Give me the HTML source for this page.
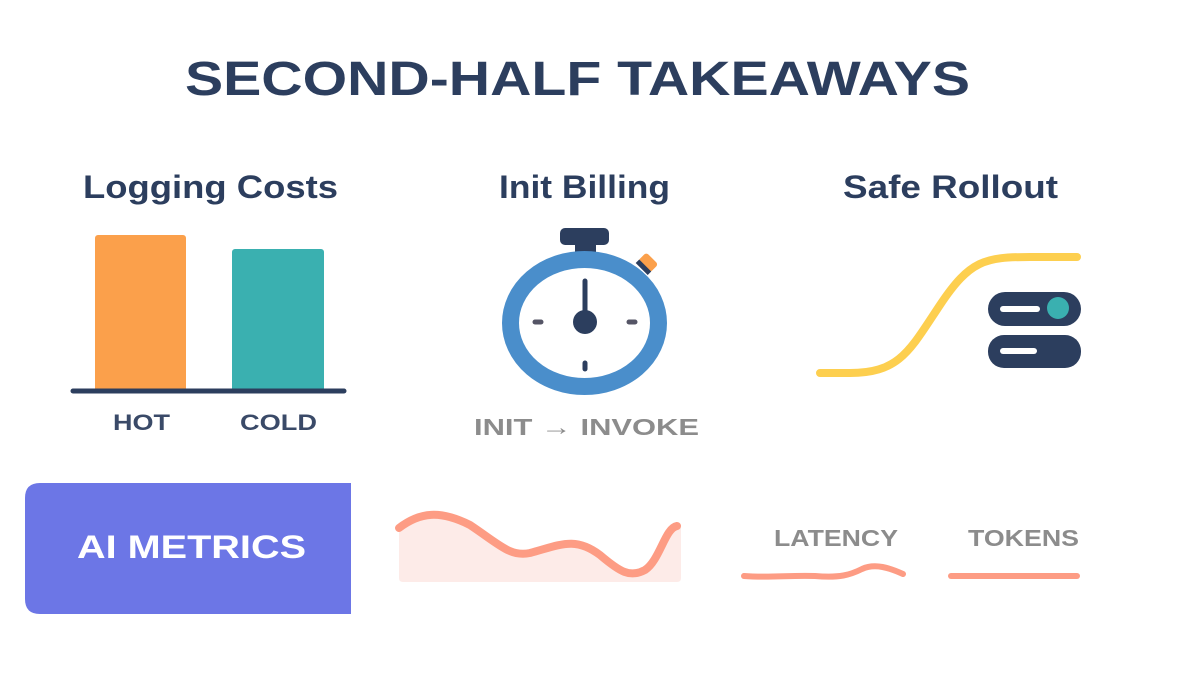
<!DOCTYPE html>
<html><head><meta charset="utf-8"><style>
html,body{margin:0;padding:0;background:#fff;width:1200px;height:675px;overflow:hidden}
</style></head><body>
<svg width="1200" height="675" viewBox="0 0 1200 675" xmlns="http://www.w3.org/2000/svg" font-family="Liberation Sans, DejaVu Sans, sans-serif">
<text x="185" y="95" font-size="48" font-weight="bold" fill="#2c3e5e" textLength="785" lengthAdjust="spacingAndGlyphs">SECOND-HALF TAKEAWAYS</text>
<text x="83" y="198" font-size="32" font-weight="bold" fill="#2c3e5e" textLength="255" lengthAdjust="spacingAndGlyphs">Logging Costs</text>
<text x="499" y="198" font-size="32" font-weight="bold" fill="#2c3e5e" textLength="171" lengthAdjust="spacingAndGlyphs">Init Billing</text>
<text x="843" y="198" font-size="32" font-weight="bold" fill="#2c3e5e" textLength="215" lengthAdjust="spacingAndGlyphs">Safe Rollout</text>
<!-- bars -->
<rect x="95" y="235" width="91" height="157" rx="3" fill="#fba04b"/>
<rect x="232" y="249" width="92" height="143" rx="3" fill="#3ab0b0"/>
<line x1="73" y1="391" x2="344" y2="391" stroke="#2c3e5e" stroke-width="5" stroke-linecap="round"/>
<text x="113" y="430" font-size="22" font-weight="bold" fill="#3a4a68" textLength="57" lengthAdjust="spacingAndGlyphs">HOT</text>
<text x="240" y="430" font-size="22" font-weight="bold" fill="#3a4a68" textLength="77" lengthAdjust="spacingAndGlyphs">COLD</text>
<!-- stopwatch -->
<rect x="560" y="228" width="49" height="17" rx="5" fill="#2c3e5e"/>
<rect x="575" y="243" width="21" height="10" fill="#2c3e5e"/>
<g transform="rotate(45 647 263)"><rect x="639" y="256" width="17" height="12" rx="3" fill="#fba04b"/><rect x="639" y="266" width="17" height="5" fill="#2c3e5e"/></g>
<ellipse cx="584.5" cy="323" rx="74" ry="63.5" fill="#fff" stroke="#4a8ecb" stroke-width="17"/>
<line x1="585" y1="281" x2="585" y2="316" stroke="#2c3e5e" stroke-width="5" stroke-linecap="round"/>
<circle cx="585" cy="322" r="12" fill="#2c3e5e"/>
<line x1="535" y1="322" x2="541" y2="322" stroke="#556" stroke-width="5" stroke-linecap="round"/>
<line x1="629" y1="322" x2="635" y2="322" stroke="#556" stroke-width="5" stroke-linecap="round"/>
<line x1="585" y1="363" x2="585" y2="369" stroke="#2c3e5e" stroke-width="5" stroke-linecap="round"/>
<text x="474" y="435" font-size="23" font-weight="bold" fill="#8c8c8c" textLength="225" lengthAdjust="spacingAndGlyphs">INIT → INVOKE</text>
<!-- rollout -->
<path d="M820 373 L850 373 C900 373 910 350 940 305 C970 260 985 257 1030 257 L1077 257" fill="none" stroke="#fdcf4f" stroke-width="8" stroke-linecap="round"/>
<rect x="988" y="292" width="93" height="34" rx="17" fill="#2c3e5e"/>
<rect x="1000" y="306" width="40" height="6" rx="3" fill="#fff"/>
<circle cx="1058" cy="308" r="11" fill="#3ab0b0"/>
<rect x="988" y="335" width="93" height="33" rx="16" fill="#2c3e5e"/>
<rect x="1000" y="348" width="37" height="6" rx="3" fill="#fff"/>
<!-- AI metrics -->
<path d="M40 483 L351 483 L351 614 L40 614 Q25 614 25 599 L25 498 Q25 483 40 483 Z" fill="#6c76e6"/>
<text x="77" y="558" font-size="32" font-weight="bold" fill="#fff" textLength="229" lengthAdjust="spacingAndGlyphs">AI METRICS</text>
<path d="M399 528 C420 512 440 510 470 525 C500 545 510 557 530 553 C560 545 575 536 600 555 C620 572 630 578 645 570 C660 560 665 528 678 525 L681 525 L681 578 Q681 582 677 582 L403 582 Q399 582 399 578 Z" fill="#fdebe8"/>
<path d="M399 528 C420 512 440 510 470 525 C500 545 510 557 530 553 C560 545 575 536 600 555 C620 572 630 578 645 570 C660 560 665 528 677 526" fill="none" stroke="#fd9c84" stroke-width="8" stroke-linecap="round"/>
<text x="774" y="546" font-size="23" font-weight="bold" fill="#8c8c8c" textLength="124" lengthAdjust="spacingAndGlyphs">LATENCY</text>
<text x="968" y="546" font-size="23" font-weight="bold" fill="#8c8c8c" textLength="111" lengthAdjust="spacingAndGlyphs">TOKENS</text>
<path d="M744 576 C770 578 790 575 815 576 C840 578 850 575 862 569 C875 563 890 568 903 574" fill="none" stroke="#fd9c84" stroke-width="6" stroke-linecap="round"/>
<line x1="951" y1="576" x2="1077" y2="576" stroke="#fd9c84" stroke-width="6" stroke-linecap="round"/>
</svg>
</body></html>
